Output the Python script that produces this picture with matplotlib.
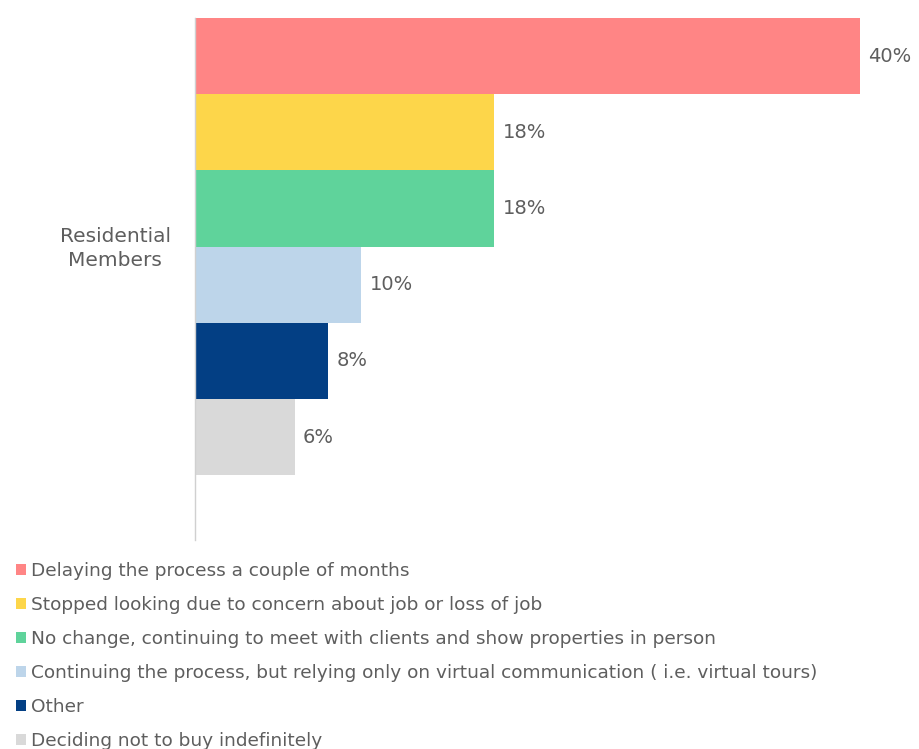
import matplotlib.pyplot as plt
from matplotlib.patches import Patch

group = "Residential\nMembers"
answers = [
    "Delaying the process a couple of months",
    "Stopped looking due to concern about job or loss of job",
    "No change, continuing to meet with clients and show properties in person",
    "Continuing the process, but relying only on virtual communication ( i.e. virtual tours)",
    "Other",
    "Deciding not to buy indefinitely",
]
shares = [40, 18, 18, 10, 8, 6]
colors = ["#FF8585", "#FDD64A", "#5FD39B", "#BDD5EA", "#033F84", "#D9D9D9"]

text_gray = "#5E5E5E"
plt.rcParams["font.family"] = "DejaVu Sans"

fig = plt.figure(figsize=(9.19, 7.49), dpi=100)
ax = fig.add_axes([195 / 919, 1 - 540 / 749, 665 / 919, 522 / 749])

pos = list(range(len(shares)))
bars = ax.barh(pos, shares, height=1.0, color=colors)

for p, v in zip(pos, shares):
    ax.text(v + 0.5, p, f"{v}%", va="center", ha="left",
            fontsize=14, color=text_gray)

ax.set_xlim(0, 40)
ax.set_ylim(6.35, -0.5)
ax.set_xticks([])
ax.set_yticks([])
for side in ["top", "right", "bottom"]:
    ax.spines[side].set_visible(False)
ax.spines["left"].set_color("#D0D0D0")
ax.spines["left"].set_linewidth(1)

# group label sits at the middle of the bar block
ax.text(-0.12, (pos[0] + pos[-1]) / 2 + 0.02, group, transform=ax.get_yaxis_transform(),
        ha="center", va="center", fontsize=14.5, color=text_gray, linespacing=1.35)

handles = [Patch(facecolor=c, edgecolor="none") for c in colors]
fig.legend(handles, answers, loc="upper left", bbox_to_anchor=(0.009, 1 - 555 / 749),
           frameon=False, fontsize=13.3, labelcolor=text_gray,
           handlelength=0.55, handleheight=0.55, handletextpad=0.3,
           labelspacing=0.86, borderaxespad=0)

fig.savefig("out.png", dpi=100)
